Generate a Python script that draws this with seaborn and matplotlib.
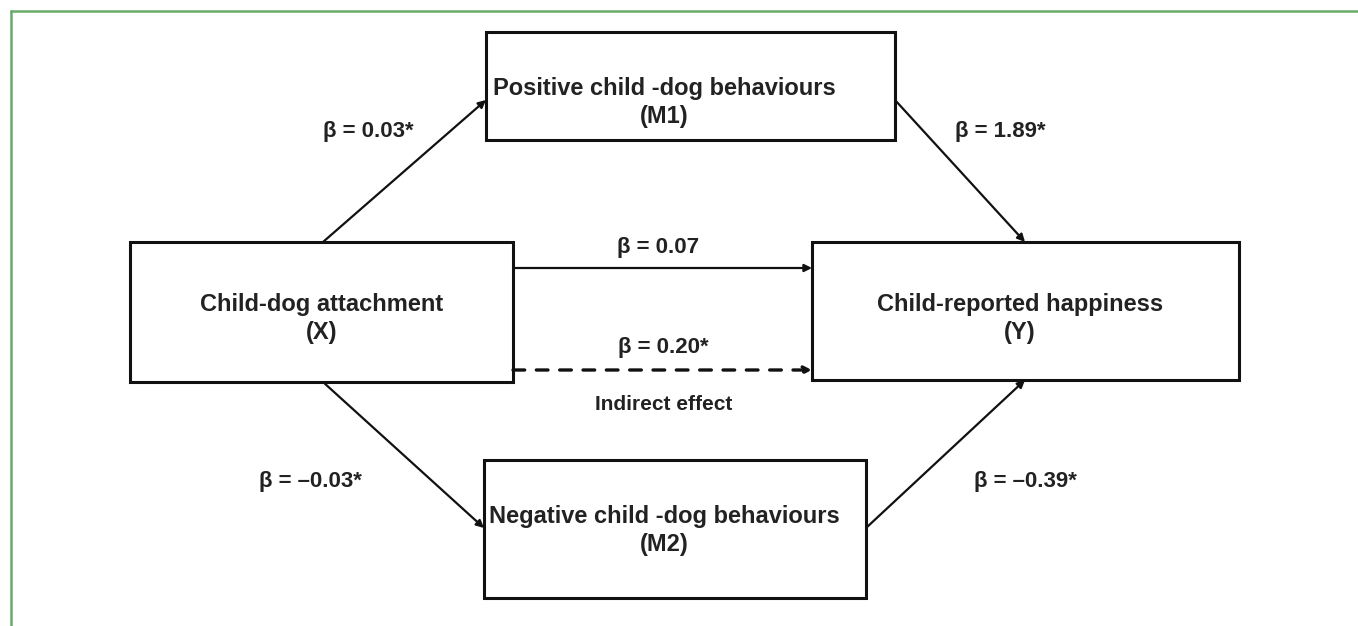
import matplotlib
matplotlib.use("Agg")
import matplotlib.pyplot as plt
from matplotlib.patches import Rectangle
import seaborn as sns

# ---- data ----
node_keys = ["X", "M1", "M2", "Y"]
node_names = ["Child-dog attachment", "Positive child -dog behaviours",
              "Negative child -dog behaviours", "Child-reported happiness"]
node_codes = ["(X)", "(M1)", "(M2)", "(Y)"]
path_from = ["X", "M1", "X", "X", "X", "M2"]
path_to = ["M1", "Y", "Y", "Y", "M2", "Y"]
path_labels = ["β = 0.03*", "β = 1.89*", "β = 0.07", "β = 0.20*", "β = \u20130.03*", "β = \u20130.39*"]
path_kind = ["solid", "solid", "solid", "dashed", "solid", "solid"]
indirect_label = "Indirect effect"

sns.set_style("white")
plt.rcParams['font.family'] = ['Liberation Sans', 'DejaVu Sans']

W, H = 1358, 626
fig = plt.figure(figsize=(W / 100, H / 100), dpi=100)
ax = fig.add_axes([0, 0, 1, 1])
ax.set_xlim(0, W)
ax.set_ylim(H, 0)
ax.axis("off")

# layout (pixel boxes: x0, y0, x1, y1)
boxes = {
    "X": (130, 242, 513, 382),
    "M1": (486, 32, 895, 140),
    "M2": (484, 460, 866, 598),
    "Y": (812, 242, 1239, 380),
}
name_pos = {"X": (322, 304), "M1": (664, 88), "M2": (664, 516), "Y": (1020, 304)}
code_dy = 28

fs = 17
tc = "#222222"
for k, name, code in zip(node_keys, node_names, node_codes):
    x0, y0, x1, y1 = boxes[k]
    ax.add_patch(Rectangle((x0, y0), x1 - x0, y1 - y0, fill=False, ec="#111111", lw=2.2))
    cx, cy = name_pos[k]
    ax.text(cx, cy, name, ha="center", va="center", fontsize=fs, color=tc, fontweight="bold")
    ax.text(cx, cy + code_dy, code, ha="center", va="center", fontsize=fs, color=tc,
            fontweight="bold")

# path geometry (start, end) and label positions
path_geom = [
    ((323, 242), (486, 100)),
    ((895, 100), (1025, 242)),
    ((513, 268), (812, 268)),
    ((513, 370), (812, 370)),
    ((323, 382), (484, 528)),
    ((866, 528), (1025, 380)),
]
label_pos = [(368, 132), (1000, 132), (658, 248), (663, 347), (310, 481), (1025, 481)]

for (s, e), lab, kind, lp in zip(path_geom, path_labels, path_kind, label_pos):
    ls = (0, (3.5, 3.5)) if kind == "dashed" else "-"
    lw = 2.4 if kind == "dashed" else 1.6
    ax.annotate("", xy=e, xytext=s,
                arrowprops=dict(arrowstyle="-|>", mutation_scale=11, lw=lw,
                                color="#111111", linestyle=ls,
                                shrinkA=0, shrinkB=0))
    ax.text(lp[0], lp[1], lab, ha="center", va="center", fontsize=16, color=tc,
            fontweight="bold")

ax.text(664, 405, indirect_label, ha="center", va="center", fontsize=15, color=tc,
        fontweight="bold")

# green frame (top and left)
ax.plot([10, W], [10.5, 10.5], color="#6aaa6a", lw=1.8, solid_capstyle="butt")
ax.plot([10.5, 10.5], [10, H], color="#6aaa6a", lw=1.8, solid_capstyle="butt")

fig.savefig("out.png", dpi=100)
